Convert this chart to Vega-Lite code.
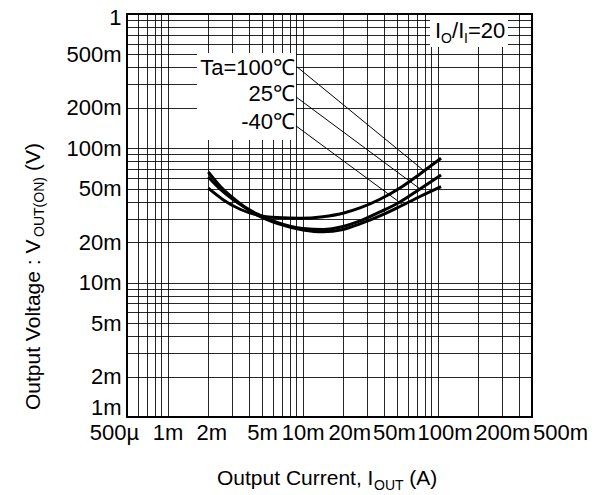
{
  "$schema": "https://vega.github.io/schema/vega-lite/v6.json",
  "width": 405,
  "height": 403,
  "autosize": "none",
  "padding": {"left": 127, "top": 14, "right": 66, "bottom": 78},
  "background": "white",
  "config": {
    "view": {"stroke": "#000", "strokeWidth": 2},
    "font": "Liberation Sans"
  },
  "datasets": {
    "curves": [
      {"series": "100", "x": 0.002, "y": 0.0505},
      {"series": "100", "x": 0.00259, "y": 0.0413},
      {"series": "100", "x": 0.00344, "y": 0.0352},
      {"series": "100", "x": 0.00459, "y": 0.0319},
      {"series": "100", "x": 0.00646, "y": 0.0305},
      {"series": "100", "x": 0.00956, "y": 0.0302},
      {"series": "100", "x": 0.01415, "y": 0.031},
      {"series": "100", "x": 0.0199, "y": 0.0329},
      {"series": "100", "x": 0.0266, "y": 0.036},
      {"series": "100", "x": 0.0374, "y": 0.0418},
      {"series": "100", "x": 0.0526, "y": 0.0507},
      {"series": "100", "x": 0.074, "y": 0.0645},
      {"series": "100", "x": 0.106, "y": 0.0844},
      {"series": "25", "x": 0.002, "y": 0.0612},
      {"series": "25", "x": 0.00244, "y": 0.0499},
      {"series": "25", "x": 0.00305, "y": 0.0416},
      {"series": "25", "x": 0.00459, "y": 0.0325},
      {"series": "25", "x": 0.00646, "y": 0.0281},
      {"series": "25", "x": 0.01006, "y": 0.0253},
      {"series": "25", "x": 0.01415, "y": 0.0249},
      {"series": "25", "x": 0.0199, "y": 0.0262},
      {"series": "25", "x": 0.0266, "y": 0.0288},
      {"series": "25", "x": 0.0374, "y": 0.0336},
      {"series": "25", "x": 0.0526, "y": 0.0399},
      {"series": "25", "x": 0.074, "y": 0.0499},
      {"series": "25", "x": 0.106, "y": 0.0634},
      {"series": "-40", "x": 0.002, "y": 0.0667},
      {"series": "-40", "x": 0.00244, "y": 0.0525},
      {"series": "-40", "x": 0.00305, "y": 0.0427},
      {"series": "-40", "x": 0.00459, "y": 0.0319},
      {"series": "-40", "x": 0.00646, "y": 0.0276},
      {"series": "-40", "x": 0.01006, "y": 0.0247},
      {"series": "-40", "x": 0.01415, "y": 0.0239},
      {"series": "-40", "x": 0.0199, "y": 0.0249},
      {"series": "-40", "x": 0.0266, "y": 0.0274},
      {"series": "-40", "x": 0.0374, "y": 0.0314},
      {"series": "-40", "x": 0.0526, "y": 0.0369},
      {"series": "-40", "x": 0.074, "y": 0.0438},
      {"series": "-40", "x": 0.106, "y": 0.0519}
    ],
    "leaders": [
      {"series": "100", "x": 0.00909, "y": 0.4038, "x2": 0.0779, "y2": 0.069},
      {"series": "25", "x": 0.00893, "y": 0.2414, "x2": 0.074, "y2": 0.0499},
      {"series": "-40", "x": 0.00893, "y": 0.1468, "x2": 0.05538, "y2": 0.038}
    ],
    "boxes": [
      {"name": "legend", "x": 0.00165, "x2": 0.00893, "y": 0.1155, "y2": 0.5129},
      {"name": "ratio", "x": 0.0877, "x2": 0.332, "y": 0.569, "y2": 0.985}
    ],
    "legendText": [
      {"label": "Ta=100℃", "x": 0.008777, "y": 0.352},
      {"label": "25℃", "x": 0.008777, "y": 0.2254},
      {"label": "-40℃", "x": 0.008777, "y": 0.1394}
    ],
    "ratioMain": [
      {"label": "I", "x": 0.09561, "y": 0.6637},
      {"label": "/I", "x": 0.1278, "y": 0.6637},
      {"label": "=20", "x": 0.1679, "y": 0.6637}
    ],
    "ratioSub": [
      {"label": "O", "x": 0.1059, "y": 0.6096},
      {"label": "I", "x": 0.1567, "y": 0.6096}
    ],
    "xTitleMain": [
      {"label": "Output Current, I", "x": 0.002321, "y": 0.000312},
      {"label": "(A)", "x": 0.06166, "y": 0.000312}
    ],
    "xTitleSub": [
      {"label": "OUT", "x": 0.03378, "y": 0.000286}
    ],
    "yTitleMain": [
      {"label": "Output Voltage : V", "x": 0.0001134, "y": 0.001127},
      {"label": "(V)", "x": 0.0001134, "y": 0.06787}
    ],
    "yTitleSub": [
      {"label": "OUT(ON)", "x": 0.0001214, "y": 0.02189}
    ]
  },
  "encoding": {
    "x": {
      "field": "x",
      "type": "quantitative",
      "scale": {"type": "log", "domain": [0.0005, 0.5], "nice": false},
      "axis": {
        "title": null,
        "values": [0.0005, 0.0006, 0.0007, 0.0008, 0.0009, 0.001, 0.002, 0.003, 0.004, 0.005, 0.006, 0.007, 0.008, 0.009, 0.01, 0.02, 0.03, 0.04, 0.05, 0.06, 0.07, 0.08, 0.09, 0.1, 0.2, 0.3, 0.4, 0.5],
        "format": "~s",
        "labelExpr": "test(regexp('^[125]'), datum.label) ? datum.label : ''",
        "grid": true,
        "gridColor": "#000",
        "gridWidth": 1,
        "gridOpacity": 0.85,
        "ticks": false,
        "tickSize": 0,
        "domain": false,
        "labelFontSize": 22,
        "labelColor": "#000",
        "labelPadding": 5,
        "labelOverlap": false,
        "labelBound": false,
        "labelFlush": false,
        "labelOffset": {
          "condition": [
            {"test": "datum.value < 0.00055", "value": -13},
            {"test": "datum.value > 0.45", "value": 28},
            {"test": "datum.value > 0.15 && datum.value < 0.25", "value": 24},
            {"test": "datum.value > 0.015 && datum.value < 0.025", "value": 6},
            {"test": "datum.value > 0.045 && datum.value < 0.055", "value": -3},
            {"test": "datum.value > 0.09 && datum.value < 0.11", "value": 7},
            {"test": "datum.value > 0.0015 && datum.value < 0.0025", "value": 3}
          ],
          "value": 0
        }
      }
    },
    "y": {
      "field": "y",
      "type": "quantitative",
      "scale": {"type": "log", "domain": [0.001, 1], "nice": false},
      "axis": {
        "title": null,
        "values": [0.001, 0.002, 0.003, 0.004, 0.005, 0.006, 0.007, 0.008, 0.009, 0.01, 0.02, 0.03, 0.04, 0.05, 0.06, 0.07, 0.08, 0.09, 0.1, 0.2, 0.3, 0.4, 0.5, 0.6, 0.7, 0.8, 0.9, 1],
        "format": "~s",
        "labelExpr": "test(regexp('^[125]'), datum.label) ? datum.label : ''",
        "grid": true,
        "gridColor": "#000",
        "gridWidth": 1,
        "gridOpacity": 0.85,
        "ticks": false,
        "tickSize": 0,
        "domain": false,
        "labelFontSize": 22,
        "labelColor": "#000",
        "labelPadding": 6,
        "labelOverlap": false,
        "labelBound": false,
        "labelFlush": false,
        "labelOffset": {
          "condition": [
            {"test": "datum.value < 0.0011", "value": -10},
            {"test": "datum.value > 0.95", "value": 3}
          ],
          "value": 0
        }
      }
    }
  },
  "layer": [
    {
      "data": {"name": "boxes"},
      "mark": {"type": "rect", "fill": "white", "stroke": null},
      "encoding": {"x2": {"field": "x2"}, "y2": {"field": "y2"}}
    },
    {
      "data": {"name": "curves"},
      "mark": {"type": "line", "color": "#000", "strokeWidth": 3, "interpolate": "monotone"},
      "encoding": {"detail": {"field": "series", "type": "nominal"}}
    },
    {
      "data": {"name": "leaders"},
      "mark": {"type": "rule", "color": "#000", "strokeWidth": 1},
      "encoding": {"x2": {"field": "x2"}, "y2": {"field": "y2"}}
    },
    {
      "data": {"name": "legendText"},
      "mark": {"type": "text", "align": "right", "baseline": "alphabetic", "fontSize": 22, "color": "#000"},
      "encoding": {"text": {"field": "label"}}
    },
    {
      "data": {"name": "ratioMain"},
      "mark": {"type": "text", "align": "left", "baseline": "alphabetic", "fontSize": 22, "color": "#000"},
      "encoding": {"text": {"field": "label"}}
    },
    {
      "data": {"name": "ratioSub"},
      "mark": {"type": "text", "align": "left", "baseline": "alphabetic", "fontSize": 14, "color": "#000"},
      "encoding": {"text": {"field": "label"}}
    },
    {
      "data": {"name": "xTitleMain"},
      "mark": {"type": "text", "align": "left", "baseline": "alphabetic", "fontSize": 21, "color": "#000"},
      "encoding": {"text": {"field": "label"}}
    },
    {
      "data": {"name": "xTitleSub"},
      "mark": {"type": "text", "align": "left", "baseline": "alphabetic", "fontSize": 14, "color": "#000"},
      "encoding": {"text": {"field": "label"}}
    },
    {
      "data": {"name": "yTitleMain"},
      "mark": {"type": "text", "align": "left", "baseline": "alphabetic", "fontSize": 21, "angle": 270, "color": "#000"},
      "encoding": {"text": {"field": "label"}}
    },
    {
      "data": {"name": "yTitleSub"},
      "mark": {"type": "text", "align": "left", "baseline": "alphabetic", "fontSize": 14, "angle": 270, "color": "#000"},
      "encoding": {"text": {"field": "label"}}
    }
  ]
}
